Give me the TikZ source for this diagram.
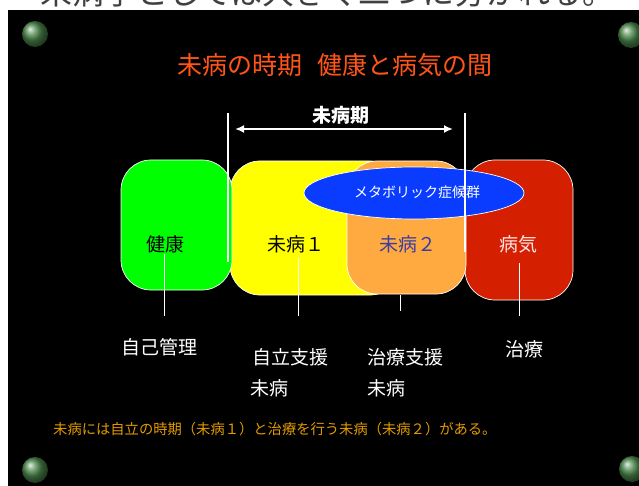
\documentclass[tikz,border=0pt]{standalone}
\usepackage{fontspec}
\newfontfamily\jp{Noto Sans CJK JP}
\usetikzlibrary{shapes.geometric,arrows.meta,shadings}
\definecolor{boxgreen}{RGB}{0,255,0}
\definecolor{boxyellow}{RGB}{255,255,0}
\definecolor{boxorange}{RGB}{255,170,64}
\definecolor{boxred}{RGB}{212,32,0}
\definecolor{metablue}{RGB}{10,60,255}
\definecolor{titlecol}{RGB}{255,85,25}
\definecolor{captcol}{RGB}{225,155,0}
\definecolor{mibyo2col}{RGB}{60,60,165}
\definecolor{byokicol}{RGB}{255,228,228}
\definecolor{ballcol}{RGB}{75,135,75}
\begin{document}
\begin{tikzpicture}[x=1pt,y=-1pt,
  box/.style={draw=white, line width=0.7pt, rounded corners=30pt, inner sep=0pt},
  lbl/.style={font=\jp\fontsize{19}{19}\selectfont, inner sep=0pt, text=white},
  wline/.style={draw=white, line width=0.9pt},
  ball/.style={circle, minimum size=26pt, inner sep=0pt, ball color=ballcol, draw=none}
]
\useasboundingbox (0,0) rectangle (639,486);
\fill[white] (0,0) rectangle (639,486);
\fill[black] (8,10) rectangle (639,486);
\begin{scope}
  \clip (0,0) rectangle (639,10);
  \node[anchor=base west, inner sep=0pt, font=\jp\fontsize{32}{32}\selectfont, text=black!75] (toptext) at (40,5) {未病学としては大きく二つに分かれる。};
\end{scope}

% corner balls
\node[ball] (b1) at (35,34) {};
\node[ball] (b2) at (631,35) {};
\node[ball] (b3) at (35,470) {};
\node[ball] (b4) at (632,469) {};

% title
\node[font=\jp\fontsize{25}{25}\selectfont, text=titlecol, inner sep=0pt] (title) at (335,65) {未病の時期\hspace{0.6em}健康と病気の間};

% boxes
\node[box, fill=boxred, minimum width=108pt, minimum height=140pt] (red) at (519,230) {};
\node[box, fill=boxyellow, minimum width=170pt, minimum height=134pt] (yellow) at (315,228) {};
\node[box, fill=boxorange, minimum width=119pt, minimum height=133pt] (orange) at (406.5,227.5) {};
\node[box, fill=boxgreen, minimum width=111pt, minimum height=130pt] (green) at (176.5,225) {};
\node[ellipse, draw=white, line width=0.7pt, fill=metablue, minimum width=220pt, minimum height=52pt, inner sep=0pt] (meta) at (414,193) {};
\node[font=\jp\fontsize{14}{14}\selectfont, text=white, inner sep=0pt] (metatext) at (417,192) {メタボリック症候群};

% period markers
\coordinate (vl1) at (228,113);
\coordinate (vl2) at (228,262);
\coordinate (vr1) at (465,113);
\coordinate (vr2) at (465,252);
\draw[wline, line width=1.1pt] (vl1) -- (vl2);
\draw[wline, line width=1.1pt] (vr1) -- (vr2);
\coordinate (aL) at (235,129);
\coordinate (aR) at (453,129);
\draw[white, line width=1.8pt, {Latex[length=9pt,width=8pt]}-{Latex[length=9pt,width=8pt]}] (aL) -- (aR);
\node[font=\jp\bfseries\fontsize{19}{19}\selectfont, text=white, inner sep=0pt] (period) at (341,115) {未病期};

% box labels
\node[lbl, text=black] (kenkou) at (165,244) {健康};
\node[lbl, text=black] (mibyo1) at (296,244) {未病１};
\node[lbl, text=mibyo2col] (mibyo2) at (408,244) {未病２};
\node[lbl, text=byokicol] (byoki) at (518,244) {病気};

% connector lines
\coordinate (c1a) at (164,254); \coordinate (c1b) at (164,316);
\coordinate (c2a) at (298,258); \coordinate (c2b) at (298,316);
\coordinate (c3a) at (400,295); \coordinate (c3b) at (400,311);
\coordinate (c4a) at (519,263); \coordinate (c4b) at (519,316);
\draw[wline] (c1a) -- (c1b);
\draw[wline] (c2a) -- (c2b);
\draw[wline] (c3a) -- (c3b);
\draw[wline] (c4a) -- (c4b);

% lower labels
\node[lbl, anchor=west] (jiko) at (121,347) {自己管理};
\node[lbl, anchor=west] (jiritsu) at (252,357) {自立支援};
\node[lbl, anchor=west] (mibyoA) at (250,388) {未病};
\node[lbl, anchor=west] (chiryoS) at (367,357) {治療支援};
\node[lbl, anchor=west] (mibyoB) at (367,388) {未病};
\node[lbl, anchor=west] (chiryo) at (505,349) {治療};

% caption
\node[anchor=west, inner sep=0pt, font=\jp\fontsize{14.3}{14.3}\selectfont, text=captcol] (caption) at (53,429) {未病には自立の時期（未病１）と治療を行う未病（未病２）がある。};
\end{tikzpicture}
\end{document}
